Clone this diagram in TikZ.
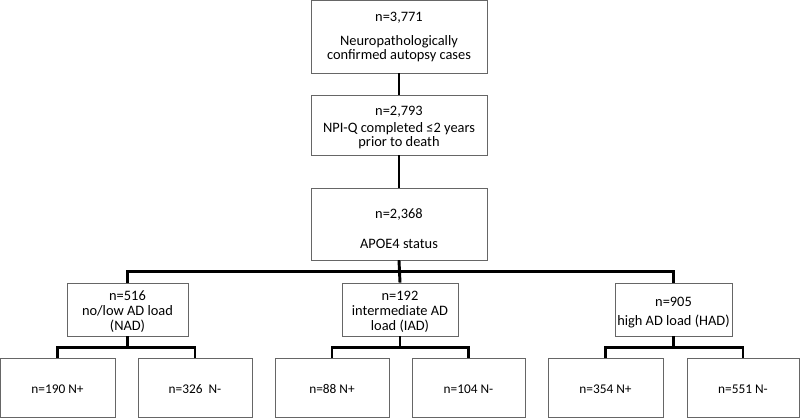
\documentclass[tikz,border=0pt]{standalone}
\usepackage{fontspec}
\setmainfont{Carlito}
\usepackage{tikz}

\begin{document}
\setlength{\lineskiplimit}{-20pt}
\begin{tikzpicture}[x=0.75pt, y=-0.75pt,
	box/.style={draw=black!60, line width=0.6pt, inner sep=0pt},
	txt/.style={align=center, inner sep=0pt, font=\fontsize{10.8}{#1}\selectfont},
	txt/.default=11.25pt,
	leaftxt/.style={inner sep=0pt, font=\fontsize{10}{12}\selectfont},
	link/.style={line width=2.2pt}]
	\useasboundingbox (0,0) rectangle (800,418);
	
	% upper boxes
	\node[box, minimum width=132pt, minimum height=54.75pt] (total) at (399,36.5) {};
	\node[box, minimum width=132pt, minimum height=45pt] (npiq) at (399,125) {};
	\node[box, minimum width=132pt, minimum height=54pt] (apoe) at (399,224) {};
	\node[txt=10.5pt] (totaltxt) at (399,37.3) {n=3,771\\[7.3pt]Neuropathologically\\confirmed autopsy cases};
	\node[txt=10.5pt] (npiqtxt) at (399,127.5) {n=2,793\\[2pt]NPI-Q completed ≤2 years\\prior to death};
	\node[txt=10pt] (apoetxt) at (399,228.2) {n=2,368\\[12.5pt]APOE4 status};
	
	% AD load
	\node[box, minimum width=90.75pt, minimum height=39.75pt] (nad) at (127.5,309.5) {};
	\node[box, minimum width=87pt, minimum height=39.75pt] (iad) at (400,309.5) {};
	\node[box, minimum width=87.75pt, minimum height=39.75pt] (had) at (673.5,309.5) {};
	\node[txt] (nadtxt) at (127.5,311.9) {n=516\\no/low AD load\\(NAD)};
	\node[txt] (iadtxt) at (400,311.9) {n=192\\intermediate AD\\load (IAD)};
	\node[txt] (hadtxt) at (673.5,312.5) {n=905\\[2.5pt]high AD load (HAD)};
	
	% leaves
	\node[box, minimum width=86.25pt, minimum height=44.25pt] (nadp) at (57.5,387.5) {};
	\node[box, minimum width=85.5pt, minimum height=44.25pt] (nadm) at (195,387.5) {};
	\node[box, minimum width=85.5pt, minimum height=44.25pt] (iadp) at (332,387.5) {};
	\node[box, minimum width=84.75pt, minimum height=44.25pt] (iadm) at (468.5,387.5) {};
	\node[box, minimum width=86.25pt, minimum height=44.25pt] (hadp) at (605.5,387.5) {};
	\node[box, minimum width=84pt, minimum height=44.25pt] (hadm) at (743,387.5) {};
	\node[leaftxt] (nadptxt) at (57.5,388.8) {n=190 N+};
	\node[leaftxt] (nadmtxt) at (195,388.8) {n=326\ \ N-};
	\node[leaftxt] (iadptxt) at (332,388.8) {n=88 N+};
	\node[leaftxt] (iadmtxt) at (468.5,388.8) {n=104 N-};
	\node[leaftxt] (hadptxt) at (605.5,388.8) {n=354 N+};
	\node[leaftxt] (hadmtxt) at (743,388.8) {n=551 N-};
	
	% links
	\draw[link] (total) -- (npiq);
	\draw[link] (npiq) -- (apoe);
	\draw[link] (apoe.south) -- ++(0,11) -| (nad.north);
	\draw[link] (apoe.south) -- (iad.north);
	\draw[link] (apoe.south) -- ++(0,11) -| (had.north);
	\draw[link] (nad.south) -- ++(0,11) -| (nadp.north);
	\draw[link] (nad.south) -- ++(0,11) -| (nadm.north);
	\draw[link] (iad.south) -- ++(0,11) -| (iadp.north);
	\draw[link] (iad.south) -- ++(0,11) -| (iadm.north);
	\draw[link] (had.south) -- ++(0,11) -| (hadp.north);
	\draw[link] (had.south) -- ++(0,11) -| (hadm.north);
	
\end{tikzpicture}
\end{document}
